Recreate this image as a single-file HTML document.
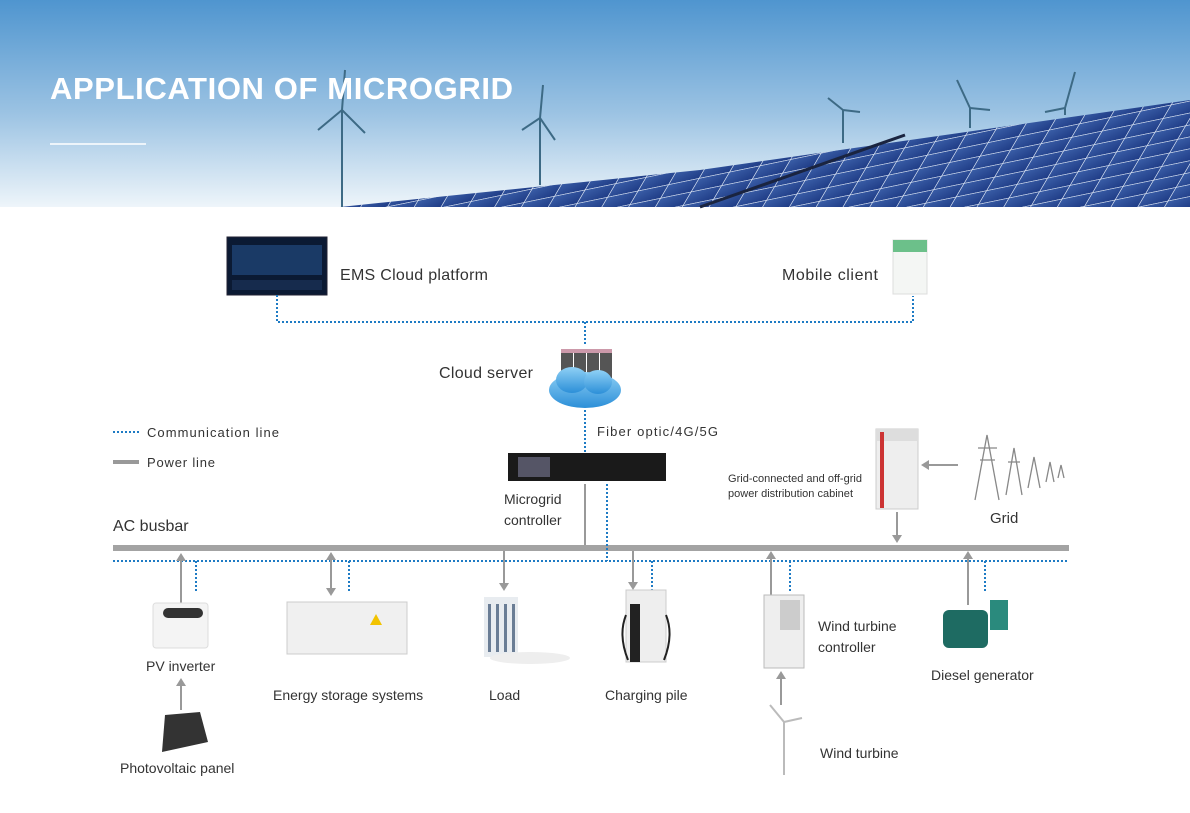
<!DOCTYPE html>
<html><head><meta charset="utf-8"><style>
body{margin:0;width:1190px;height:808px;overflow:hidden;background:#fff;font-family:"Liberation Sans",sans-serif}
svg text{font-family:"Liberation Sans",sans-serif;fill:#333}
</style></head><body>
<svg width="1190" height="808" viewBox="0 0 1190 808" xmlns="http://www.w3.org/2000/svg">
<defs>
<linearGradient id="sky" x1="0" y1="0" x2="0" y2="1">
<stop offset="0" stop-color="#4f95cf"/><stop offset="0.55" stop-color="#9cc3e3"/><stop offset="1" stop-color="#eef5fa"/>
</linearGradient>
<linearGradient id="pan" x1="0" y1="0" x2="1" y2="1">
<stop offset="0" stop-color="#3b5fa8"/><stop offset="1" stop-color="#1f3c86"/>
</linearGradient>
<pattern id="grid" width="26" height="14" patternUnits="userSpaceOnUse" patternTransform="skewX(-40) rotate(-14)">
<rect width="26" height="14" fill="url(#pan)"/><path d="M0 0H26M0 0V14" stroke="#dfe8f5" stroke-width="1.5"/>
</pattern>
<linearGradient id="cloud" x1="0" y1="0" x2="0" y2="1"><stop offset="0" stop-color="#8fd0f5"/><stop offset="1" stop-color="#2c8fd8"/></linearGradient>
</defs>
<rect width="1190" height="207" fill="url(#sky)"/>
<polygon points="340,207 700,170 1190,100 1190,207" fill="url(#grid)"/>
<line x1="700" y1="207" x2="905" y2="135" stroke="#1a2440" stroke-width="3"/>
<g stroke="#3d6a85" stroke-width="2" fill="none">
<path d="M342 207V110M342 110L318 130M342 110L365 133M342 110L345 70"/>
<path d="M540 185V118M540 118L522 130M540 118L555 140M540 118L543 85"/>
<path d="M843 143V110M843 110L828 98M843 110L860 112"/>
<path d="M970 128V108M970 108L957 80M970 108L990 110"/>
<path d="M1065 115V108M1065 108L1075 72M1065 108L1045 112"/>
</g>
<text x="50" y="99" font-size="31" font-weight="bold" style="fill:#fff" textLength="463">APPLICATION OF MICROGRID</text>
<line x1="50" y1="144" x2="146" y2="144" stroke="#fff" stroke-width="1.5"/>

<rect x="227" y="237" width="100" height="58" fill="#0b1a33" stroke="#223" />
<rect x="232" y="245" width="90" height="30" fill="#1a3a66"/>
<rect x="232" y="280" width="90" height="10" fill="#162b4d"/>
<text x="340" y="280" font-size="16" textLength="148">EMS Cloud platform</text>
<text x="782" y="280" font-size="16" textLength="96">Mobile client</text>
<rect x="893" y="240" width="34" height="54" fill="#f4f6f4" stroke="#ddd"/>
<rect x="893" y="240" width="34" height="12" fill="#6cc08a"/>
<path d="M277 295V322H913V296" stroke="#1e7bc4" stroke-width="2" stroke-dasharray="2,2" fill="none"/>
<line x1="585" y1="322" x2="585" y2="345" stroke="#1e7bc4" stroke-width="2" stroke-dasharray="2,2"/>

<g>
<rect x="561" y="349" width="12" height="30" fill="#555"/><rect x="574" y="349" width="12" height="30" fill="#555"/><rect x="587" y="349" width="12" height="30" fill="#555"/><rect x="600" y="349" width="12" height="30" fill="#555"/>
<rect x="561" y="349" width="51" height="4" fill="#c9a"/>
<ellipse cx="585" cy="390" rx="36" ry="18" fill="url(#cloud)"/>
<ellipse cx="572" cy="380" rx="16" ry="13" fill="url(#cloud)"/>
<ellipse cx="598" cy="382" rx="14" ry="12" fill="url(#cloud)"/>
</g>
<text x="439" y="378" font-size="16" textLength="94">Cloud server</text>
<line x1="585" y1="410" x2="585" y2="452" stroke="#1e7bc4" stroke-width="2" stroke-dasharray="2,2"/>
<text x="597" y="436" font-size="13" textLength="121">Fiber optic/4G/5G</text>

<line x1="113" y1="432" x2="139" y2="432" stroke="#1e7bc4" stroke-width="2" stroke-dasharray="2,2"/>
<text x="147" y="437" font-size="13" textLength="132">Communication line</text>
<line x1="113" y1="462" x2="139" y2="462" stroke="#999" stroke-width="4"/>
<text x="147" y="467" font-size="13" textLength="68">Power line</text>

<rect x="508" y="453" width="158" height="28" fill="#1a1a1a"/>
<rect x="518" y="457" width="32" height="20" fill="#556"/>
<text x="504" y="504" font-size="14">Microgrid</text>
<text x="504" y="525" font-size="14">controller</text>

<text x="113" y="531" font-size="16">AC busbar</text>

<rect x="876" y="429" width="42" height="80" fill="#eee" stroke="#ccc"/>
<rect x="876" y="429" width="42" height="12" fill="#ddd"/>
<rect x="880" y="432" width="4" height="76" fill="#c33"/>
<text x="728" y="482" font-size="11" textLength="134">Grid-connected and off-grid</text>
<text x="728" y="497" font-size="11" textLength="125">power distribution cabinet</text>
<g stroke="#888" fill="none" stroke-width="1.3">
<path d="M975 500L987 435L999 500M980 460H995M978 448H997"/>
<path d="M1006 495L1014 448L1022 495M1008 462H1020"/>
<path d="M1028 488L1034 457L1040 488"/><path d="M1046 482L1050 462L1054 482"/><path d="M1058 478L1061 465L1064 478"/>
</g>
<text x="990" y="523" font-size="15">Grid</text>
<line x1="958" y1="465" x2="926" y2="465" stroke="#999" stroke-width="2"/><polygon points="921,465 929,460 929,470" fill="#999"/>
<line x1="897" y1="512" x2="897" y2="537" stroke="#999" stroke-width="2"/><polygon points="897,543 892,535 902,535" fill="#999"/>

<rect x="113" y="545" width="956" height="6" fill="#a3a3a3"/>
<line x1="113" y1="561" x2="1069" y2="561" stroke="#1e7bc4" stroke-width="2" stroke-dasharray="2,2"/>
<line x1="585" y1="484" x2="585" y2="545" stroke="#999" stroke-width="2"/>
<line x1="607" y1="484" x2="607" y2="561" stroke="#1e7bc4" stroke-width="2" stroke-dasharray="2,2"/>

<g stroke="#999" stroke-width="2" fill="#999">
<line x1="181" y1="605" x2="181" y2="560"/><polygon points="181,553 176,561 186,561" stroke="none"/>
<line x1="181" y1="710" x2="181" y2="685"/><polygon points="181,678 176,686 186,686" stroke="none"/>
<line x1="331" y1="558" x2="331" y2="590"/><polygon points="331,552 326,560 336,560" stroke="none"/><polygon points="331,596 326,588 336,588" stroke="none"/>
<line x1="504" y1="551" x2="504" y2="585"/><polygon points="504,591 499,583 509,583" stroke="none"/>
<line x1="633" y1="551" x2="633" y2="584"/><polygon points="633,590 628,582 638,582" stroke="none"/>
<line x1="771" y1="595" x2="771" y2="558"/><polygon points="771,551 766,559 776,559" stroke="none"/>
<line x1="781" y1="705" x2="781" y2="678"/><polygon points="781,671 776,679 786,679" stroke="none"/>
<line x1="968" y1="605" x2="968" y2="558"/><polygon points="968,551 963,559 973,559" stroke="none"/>
</g>
<g stroke="#1e7bc4" stroke-width="2" stroke-dasharray="2,2">
<line x1="196" y1="561" x2="196" y2="592"/><line x1="349" y1="561" x2="349" y2="592"/>
<line x1="652" y1="561" x2="652" y2="590"/><line x1="790" y1="561" x2="790" y2="592"/><line x1="985" y1="561" x2="985" y2="592"/>
</g>

<rect x="153" y="603" width="55" height="45" rx="3" fill="#f4f4f4" stroke="#ddd"/><rect x="163" y="608" width="40" height="10" rx="5" fill="#333"/>
<text x="146" y="671" font-size="14">PV inverter</text>
<polygon points="165,715 200,712 208,742 162,752" fill="#333"/>
<text x="120" y="773" font-size="14">Photovoltaic panel</text>

<rect x="287" y="602" width="120" height="52" fill="#f0f0f0" stroke="#ccc"/>
<polygon points="370,625 376,614 382,625" fill="#f2c300"/>
<text x="273" y="700" font-size="14">Energy storage systems</text>

<rect x="484" y="597" width="34" height="60" fill="#e8ecf0"/>
<g fill="#6a7d95"><rect x="488" y="604" width="3" height="48"/><rect x="496" y="604" width="3" height="48"/><rect x="504" y="604" width="3" height="48"/><rect x="512" y="604" width="3" height="48"/></g>
<ellipse cx="530" cy="658" rx="40" ry="6" fill="#eee"/>
<text x="489" y="700" font-size="14">Load</text>

<rect x="626" y="590" width="40" height="72" fill="#eee" stroke="#ccc"/><rect x="630" y="604" width="10" height="58" fill="#222"/>
<path d="M626 615q-8 20 2 45M666 615q8 20 -2 45" stroke="#222" stroke-width="2" fill="none"/>
<text x="605" y="700" font-size="14">Charging pile</text>

<rect x="764" y="595" width="40" height="73" fill="#eee" stroke="#bbb"/><rect x="780" y="600" width="20" height="30" fill="#ccc"/>
<text x="818" y="631" font-size="14">Wind turbine</text>
<text x="818" y="652" font-size="14">controller</text>
<g stroke="#bbb" stroke-width="2"><line x1="784" y1="722" x2="784" y2="775"/><line x1="784" y1="722" x2="770" y2="705"/><line x1="784" y1="722" x2="802" y2="718"/></g>
<text x="820" y="758" font-size="14">Wind turbine</text>

<rect x="943" y="610" width="45" height="38" rx="6" fill="#1e6b62"/><rect x="990" y="600" width="18" height="30" fill="#2a8a7d"/>
<text x="931" y="680" font-size="14">Diesel generator</text>
</svg>
</body></html>
